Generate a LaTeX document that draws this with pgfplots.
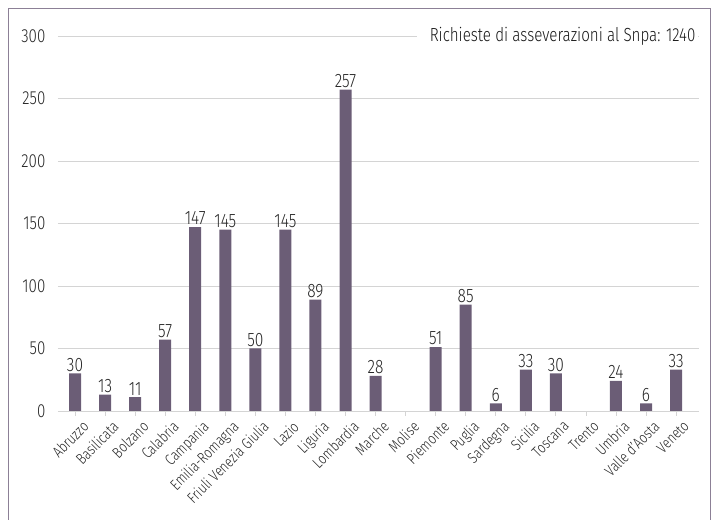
\documentclass[border=0pt]{standalone}
\usepackage{pgfplots}
\pgfplotsset{compat=1.18}
\usepackage{fontspec}
\setmainfont{Fira Sans}[UprightFont=* Light, FakeStretch=0.8]
\definecolor{barcol}{RGB}{107,93,118}
\definecolor{framecol}{RGB}{140,128,150}
\definecolor{gridcol}{RGB}{212,212,212}
\begin{document}
\begin{tikzpicture}[x=1bp,y=1bp]
\useasboundingbox (0,0) rectangle (712,520);
\draw[framecol, line width=1bp] (8.5,-5) -- (8.5,511.5) -- (710.5,511.5) -- (710.5,-5);
\begin{axis}[
  at={(57.9bp,109bp)}, anchor=south west,
  scale only axis, width=640.7bp, height=375bp,
  xmin=-0.57, xmax=20.75, ymin=0, ymax=300,
  ybar, bar width=12bp,
  axis x line*=bottom, axis y line*=left,
  y axis line style={draw=none},
  x axis line style={gridcol, line width=0.8bp, -},
  ymajorgrids, grid style={gridcol, line width=0.8bp},
  ytick={0,50,...,300},
  ytick style={draw=none},
  xtick={0,...,20},
  xticklabels={Abruzzo,Basilicata,Bolzano,Calabria,Campania,Emilia-Romagna,Friuli Venezia Giulia,Lazio,Liguria,Lombardia,Marche,Molise,Piemonte,Puglia,Sardegna,Sicilia,Toscana,Trento,Umbria,Valle d'Aosta,Veneto},
  xtick style={gridcol, line width=0.8bp},
  tick align=outside, major tick length=5bp,
  /pgf/number format/assume math mode=true,
  yticklabel style={font=\fontsize{19}{19}\selectfont, color=black!85, xshift=-4bp},
  xticklabel style={font=\fontsize{15.5}{15.5}\selectfont, color=black!85, rotate=45, anchor=north east, inner sep=1bp, xshift=3bp, yshift=-6bp},
  nodes near coords,
  nodes near coords style={font=\fontsize{19.5}{19.5}\selectfont, color=black!85, inner sep=2bp},
  clip=false,
]
\addplot[fill=barcol, draw=none] coordinates {
(0,30) (1,13) (2,11) (3,57) (4,147) (5,145) (6,50) (7,145) (8,89) (9,257)
(10,28) (12,51) (13,85) (14,6) (15,33) (16,30) (18,24) (19,6) (20,33)};
\node[anchor=east, fill=white, inner xsep=3bp, inner ysep=4bp, font=\fontsize{19}{19}\selectfont, text=black!90] at (axis cs:20.75,300) {\hspace{10bp}Richieste di asseverazioni al Snpa: 1240};
\end{axis}
\end{tikzpicture}
\end{document}
